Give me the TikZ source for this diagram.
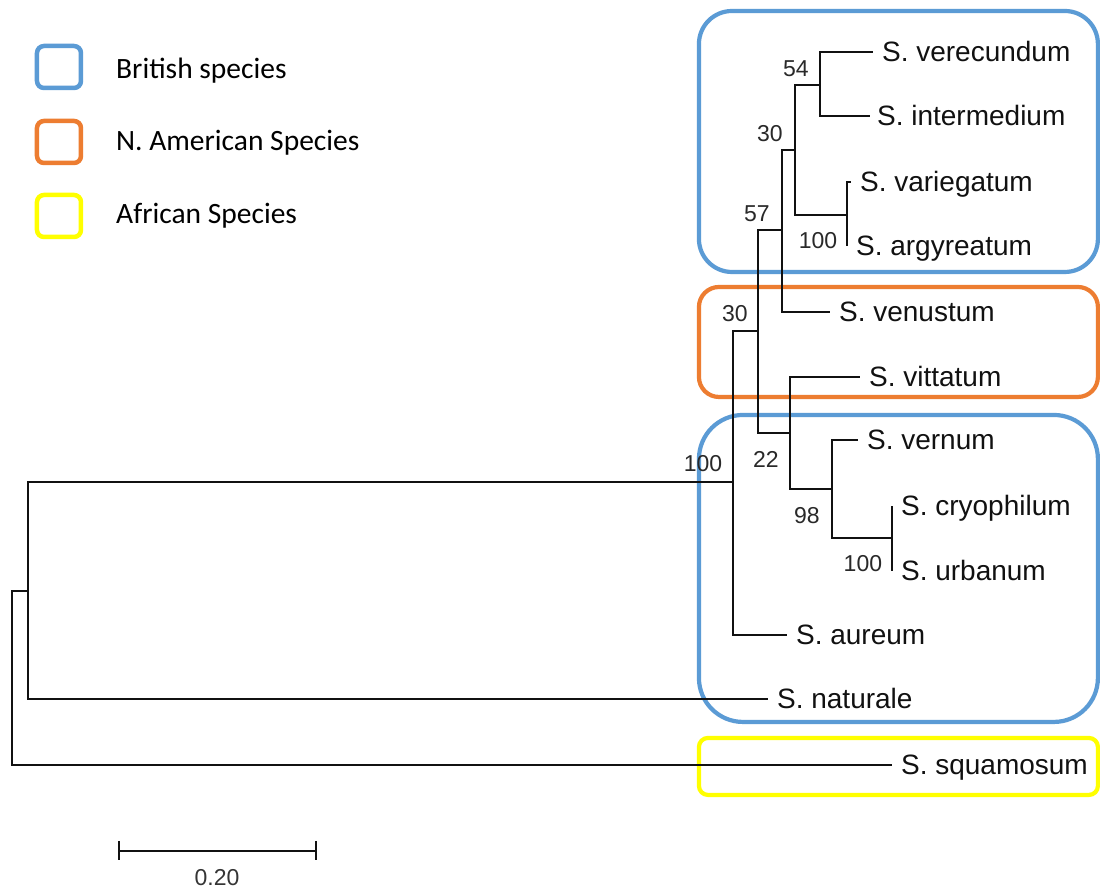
\documentclass[tikz,border=0pt]{standalone}
\usepackage{fontspec}
\setmainfont{Liberation Sans}
\newfontfamily\legendfont{Carlito}
\usetikzlibrary{positioning}
\definecolor{britBlue}{HTML}{5B9BD5}
\definecolor{amerOrange}{HTML}{ED7D31}
\definecolor{afrYellow}{HTML}{FFFF00}
\definecolor{treeInk}{HTML}{111111}

\begin{document}
\begin{tikzpicture}[x=1pt,y=-1pt,line join=miter]
\path[fill=white] (0,0) rectangle (1100,888);
\tikzset{branch/.style={draw=treeInk,line width=1.9pt},leaf/.style={anchor=west,inner xsep=9pt,inner ysep=0pt,text height=20pt,text depth=0pt,text=treeInk,font=\fontsize{28}{33}\selectfont},boot/.style={inner sep=0pt,text height=16.5pt,text depth=0pt,text=treeInk!90,font=\fontsize{23}{27}\selectfont},grpbox/.style={draw=#1,line width=4.2pt},keybox/.style={draw=#1,line width=4.5pt,rounded corners=7pt,minimum width=44pt,minimum height=42pt,inner sep=0pt},legendtxt/.style={anchor=base west,inner sep=0pt,text=black,font=\legendfont\fontsize{29.5}{34}\selectfont}}
% group boxes
\path[grpbox=britBlue,rounded corners=33pt] (699,11) rectangle (1098,272);
\path[grpbox=amerOrange,rounded corners=20pt] (699,287) rectangle (1098,397);
\path[grpbox=britBlue,rounded corners=44pt] (699,415) rectangle (1098,722);
\path[grpbox=afrYellow,rounded corners=9pt] (699,738) rectangle (1098,795);
% legend
\node[keybox=britBlue] (keyBrit) at (59,67) {}; \node[legendtxt] (txtBrit) at (116,79) {British species};
\node[keybox=amerOrange] (keyAmer) at (59,142) {}; \node[legendtxt] (txtAmer) at (116,151) {N. American Species};
\node[keybox=afrYellow] (keyAfr) at (59,216) {}; \node[legendtxt] (txtAfr) at (116,224) {African Species};
% internal nodes of the tree
\coordinate (root) at (12,678); \coordinate (nNat) at (28,591); \coordinate (n100a) at (733,482); \coordinate (n30b) at (758,331);
\coordinate (n57) at (782,230); \coordinate (n30a) at (795,150); \coordinate (n54) at (820,85); \coordinate (n100v) at (847,215);
\coordinate (n22) at (790,433); \coordinate (n98) at (832,489); \coordinate (n100c) at (892,538);
% leaves
\node[leaf] (verecundum) at (873,52) {S. verecundum};
\node[leaf,inner xsep=7pt] (intermedium) at (870,116) {S. intermedium};
\node[leaf] (variegatum) at (851,182) {S. variegatum};
\node[leaf] (argyreatum) at (847,246) {S. argyreatum};
\node[leaf] (venustum) at (830,312) {S. venustum};
\node[leaf] (vittatum) at (860,377) {S. vittatum};
\node[leaf] (vernum) at (858,440) {S. vernum};
\node[leaf] (cryophilum) at (892,506) {S. cryophilum};
\node[leaf] (urbanum) at (892,571) {S. urbanum};
\node[leaf] (aureum) at (787,635) {S. aureum};
\node[leaf] (naturale) at (768,699) {S. naturale};
\node[leaf] (squamosum) at (892,765) {S. squamosum};
% branches
\draw[branch] (root) |- (nNat); \draw[branch] (root) |- (squamosum.west);
\draw[branch] (nNat) |- (n100a); \draw[branch] (nNat) |- (naturale.west);
\draw[branch] (n100a) |- (n30b); \draw[branch] (n100a) |- (aureum.west);
\draw[branch] (n30b) |- (n57); \draw[branch] (n30b) |- (n22);
\draw[branch] (n57) |- (n30a); \draw[branch] (n57) |- (venustum.west);
\draw[branch] (n30a) |- (n54); \draw[branch] (n30a) |- (n100v);
\draw[branch] (n54) |- (verecundum.west); \draw[branch] (n54) |- (intermedium.west);
\draw[branch] (n100v) |- (variegatum.west); \draw[branch] (n100v) |- (argyreatum.west);
\draw[branch] (n22) |- (vittatum.west); \draw[branch] (n22) |- (n98);
\draw[branch] (n98) |- (vernum.west); \draw[branch] (n98) |- (n100c);
\draw[branch] (n100c) |- (cryophilum.west); \draw[branch] (n100c) |- (urbanum.west);
% bootstrap values
\node[boot] (b54) at (796,68) {54}; \node[boot] (b30a) at (770,133) {30}; \node[boot] (b57) at (757,213) {57};
\node[boot] (b30b) at (735,313) {30}; \node[boot] (b100a) at (703,463) {100}; \node[boot] (b100v) at (818,240) {100};
\node[boot] (b22) at (766,459) {22}; \node[boot] (b98) at (807,515) {98}; \node[boot] (b100c) at (863,563) {100};
% scale bar
\coordinate (barL) at (119,851); \coordinate (barR) at (316,851);
\draw[branch] (barL) -- (barR); \draw[branch] ([yshift=10pt]barL) -- ([yshift=-9pt]barL); \draw[branch] ([yshift=10pt]barR) -- ([yshift=-9pt]barR);
\node[boot,text=treeInk!85] (barTxt) at (217,877) {0.20};
\end{tikzpicture}
\end{document}
